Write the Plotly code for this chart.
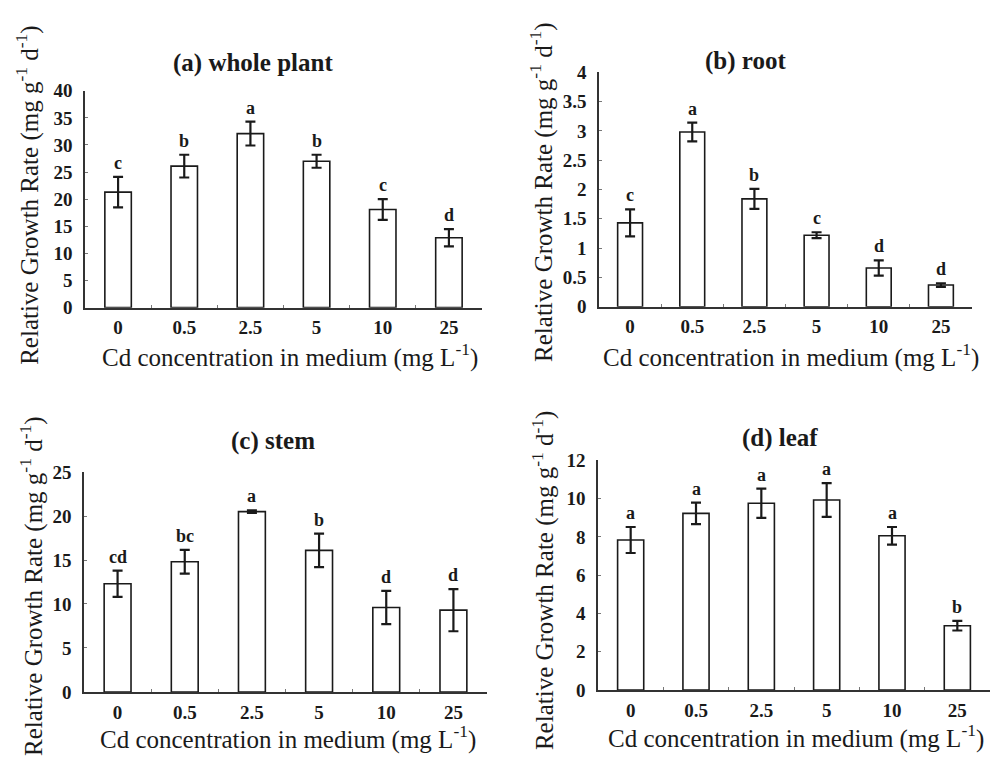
import plotly.graph_objects as go

W, H = 998, 772

categories = ["0", "0.5", "2.5", "5", "10", "25"]

whole_vals = [21.3, 26.1, 32.1, 27.0, 18.1, 12.9]
whole_err = [2.8, 2.1, 2.2, 1.2, 1.9, 1.6]
whole_letters = ["c", "b", "a", "b", "c", "d"]

root_vals = [1.43, 2.98, 1.84, 1.22, 0.66, 0.37]
root_err = [0.23, 0.16, 0.17, 0.05, 0.13, 0.03]
root_letters = ["c", "a", "b", "c", "d", "d"]

stem_vals = [12.3, 14.8, 20.5, 16.1, 9.6, 9.3]
stem_err = [1.5, 1.35, 0.15, 1.9, 1.9, 2.4]
stem_letters = ["cd", "bc", "a", "b", "d", "d"]

leaf_vals = [7.84, 9.23, 9.76, 9.93, 8.06, 3.36]
leaf_err = [0.68, 0.56, 0.76, 0.88, 0.46, 0.25]
leaf_letters = ["a", "a", "a", "a", "a", "b"]

titles = ["(a) whole plant", "(b) root", "(c) stem", "(d) leaf"]
y_ranges = [(0, 40, 5), (0, 4, 0.5), (0, 25, 5), (0, 12, 2)]

panels = [
    (whole_vals, whole_err, whole_letters),
    (root_vals, root_err, root_letters),
    (stem_vals, stem_err, stem_letters),
    (leaf_vals, leaf_err, leaf_letters),
]

# pixel layout of plot areas: (x0, x1, ytop, ybottom)
boxes = [(85, 482, 83, 306), (599, 972, 64, 305), (84, 487, 475, 701), (598, 990, 463, 699)]
title_pos = [(253, 54), (745, 52), (273, 443), (780, 440)]
ylab_pos = [(28, 190), (542, 187), (32, 592), (543, 586)]
xlab_pos = [(290, 355), (791, 355), (288, 748), (796, 747)]

SERIF = "Liberation Serif, Times New Roman, serif"
ink = "#1a1a1a"

fig = go.Figure()
layout = dict(
    width=W, height=H,
    margin=dict(l=0, r=0, t=0, b=0),
    paper_bgcolor="white", plot_bgcolor="white",
    showlegend=False,
    annotations=[],
)

def px(x):
    return x / W

def py(y):
    return 1 - y / H

for i, (vals, errs, letters) in enumerate(panels):
    n = i + 1
    xa = "x" if n == 1 else f"x{n}"
    ya = "y" if n == 1 else f"y{n}"
    fig.add_trace(go.Bar(
        x=categories, y=vals, xaxis=xa, yaxis=ya, width=0.4,
        marker=dict(color="white", line=dict(color=ink, width=1.6)),
        error_y=dict(type="data", array=errs, visible=True, color=ink, thickness=2.2, width=5),
    ))
    x0, x1, yt, yb = boxes[i]
    lo, hi, dt = y_ranges[i]
    xkey = "xaxis" if n == 1 else f"xaxis{n}"
    ykey = "yaxis" if n == 1 else f"yaxis{n}"
    layout[xkey] = dict(
        domain=[px(x0), px(x1)], anchor=ya, type="category",
        range=[-0.5, len(categories) - 0.5], tickangle=0,
        showline=True, linecolor="#333", linewidth=1.6,
        ticks="inside", tickson="boundaries", ticklen=3, tickcolor="#777", tickwidth=1,
        showgrid=False, zeroline=False,
        tickfont=dict(family=SERIF, size=19, color=ink, weight="bold"),
        ticklabelstandoff=2,
    )
    layout[ykey] = dict(
        domain=[py(yb), py(yt)], anchor=xa, range=[lo, hi], dtick=dt,
        showline=True, linecolor="#333", linewidth=1.6,
        ticks="inside", ticklen=3, tickcolor="#777", tickwidth=1,
        showgrid=False, zeroline=False,
        tickfont=dict(family=SERIF, size=19, color=ink, weight="bold"),
        ticklabelstandoff=7,
    )
    for j, (v, e, t) in enumerate(zip(vals, errs, letters)):
        layout["annotations"].append(dict(
            x=j, y=v + e, xref=xa, yref=ya, text=t, showarrow=False,
            yanchor="bottom", yshift=2,
            font=dict(family=SERIF, size=18, color=ink, weight="bold"),
        ))
    tx, ty = title_pos[i]
    layout["annotations"].append(dict(
        x=px(tx), y=py(ty), xref="paper", yref="paper", text=titles[i],
        showarrow=False, xanchor="center", yanchor="middle",
        font=dict(family=SERIF, size=25, color=ink, weight="bold"),
    ))
    lx, ly = ylab_pos[i]
    layout["annotations"].append(dict(
        x=px(lx), y=py(ly), xref="paper", yref="paper",
        text="Relative Growth Rate (mg g<sup>-1</sup> d<sup>-1</sup>)",
        showarrow=False, textangle=-90, xanchor="center", yanchor="middle",
        font=dict(family=SERIF, size=25, color=ink),
    ))
    cx, cy = xlab_pos[i]
    layout["annotations"].append(dict(
        x=px(cx), y=py(cy), xref="paper", yref="paper",
        text="Cd concentration in medium (mg L<sup>-1</sup>)",
        showarrow=False, xanchor="center", yanchor="middle",
        font=dict(family=SERIF, size=25, color=ink),
    ))

fig.update_layout(**layout)
fig.write_html(
    "out.html",
    config={"displayModeBar": False},
    post_script="document.body.style.margin='0';document.body.style.overflow='hidden';",
)
